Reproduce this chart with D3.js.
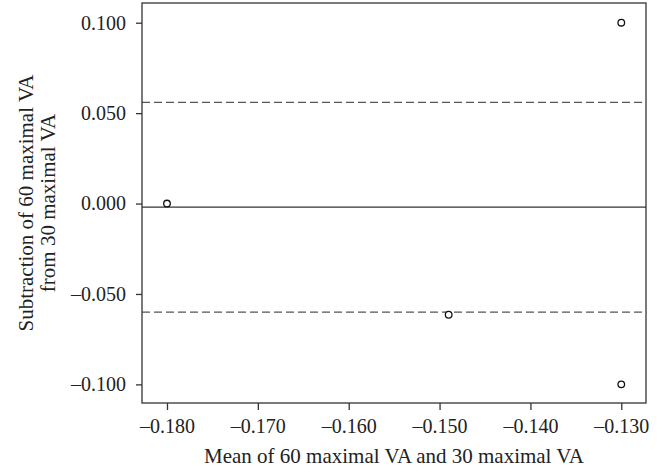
<!DOCTYPE html>
<html lang="en">
<head>
    <meta charset="UTF-8">
    <title>Bland-Altman VA</title>
    <style>
        body { margin: 0; background: #fff; }
        .axis line { stroke: #333; stroke-width: 1.3; }
        .axis path { display: none; }
        .axis text { font-family: 'Liberation Serif', 'DejaVu Serif', serif; font-size: 20px; fill: #222; }
        .title { font-family: 'Liberation Serif', 'DejaVu Serif', serif; font-size: 21px; fill: #222; }
    </style>
</head>
<body>
    <div id='chart'></div>

    <script src='https://cdnjs.cloudflare.com/ajax/libs/d3/7.8.5/d3.min.js'></script>
    <script type='text/javascript'>
        // data
        const meanVals = [-0.180, -0.130, -0.149, -0.130];
        const diffVals = [0.000, 0.100, -0.0615, -0.100];
        const meanDiff = -0.002;
        const limits = [0.056, -0.060];
        const xTicks = [-0.180, -0.170, -0.160, -0.150, -0.140, -0.130];
        const yTicks = [0.100, 0.050, 0.000, -0.050, -0.100];

        const width = 664, height = 472;
        const mLeft = 142, mRight = 646, mTop = 3, mBottom = 403;

        const svg = d3.select('#chart')
                      .append('svg')
                        .attr('width', width)
                        .attr('height', height);

        const xScale = d3.scaleLinear().domain([-0.18275, -0.12728]).range([mLeft, mRight]);
        const yScale = d3.scaleLinear().domain([-0.1103, 0.1109]).range([mBottom, mTop]);

        const fmt = (d) => d3.format('.3f')(Math.abs(d) < 1e-9 ? 0 : d).replace(/[-\u2212]/, '\u2013');

        // axes
        svg.append('g')
             .attr('class', 'axis')
             .attr('transform', `translate(0, ${mBottom})`)
           .call(d3.axisBottom(xScale).tickValues(xTicks).tickFormat(fmt).tickSize(7).tickPadding(9));

        svg.append('g')
             .attr('class', 'axis')
             .attr('transform', `translate(${mLeft}, 0)`)
           .call(d3.axisLeft(yScale).tickValues(yTicks).tickFormat(fmt).tickSize(6).tickPadding(10));

        // reference lines
        svg.append('line')
             .attr('x1', mLeft).attr('x2', mRight)
             .attr('y1', yScale(meanDiff)).attr('y2', yScale(meanDiff))
             .attr('stroke', '#333').attr('stroke-width', 1.3);

        svg.selectAll('line.limit')
             .data(limits)
             .enter()
           .append('line')
             .attr('class', 'limit')
             .attr('x1', mLeft).attr('x2', mRight)
             .attr('y1', (d) => yScale(d)).attr('y2', (d) => yScale(d))
             .attr('stroke', '#555').attr('stroke-width', 1.3)
             .attr('stroke-dasharray', '8,4');

        // frame
        svg.append('rect')
             .attr('x', mLeft).attr('y', mTop)
             .attr('width', mRight - mLeft).attr('height', mBottom - mTop)
             .attr('fill', 'none').attr('stroke', '#333').attr('stroke-width', 1.3);

        // points
        svg.selectAll('circle.pt')
             .data(meanVals)
             .enter()
           .append('circle')
             .attr('class', 'pt')
             .attr('cx', (d) => xScale(d))
             .attr('cy', (d, i) => yScale(diffVals[i]))
             .attr('r', 3.3)
             .attr('fill', 'white')
             .attr('stroke', '#111')
             .attr('stroke-width', 1.3);

        // titles
        svg.append('text')
             .attr('class', 'title')
             .attr('x', (mLeft + mRight) / 2)
             .attr('y', 463)
             .attr('text-anchor', 'middle')
             .text('Mean of 60 maximal VA and 30 maximal VA');

        const yt = svg.append('text')
             .attr('class', 'title')
             .attr('transform', `translate(33, 203) rotate(-90)`)
             .attr('text-anchor', 'middle');
        yt.append('tspan').attr('x', 0).attr('y', 0).text('Subtraction of 60 maximal VA');
        yt.append('tspan').attr('x', 0).attr('y', 21.6).text('from 30 maximal VA');
    </script>
</body>
</html>
